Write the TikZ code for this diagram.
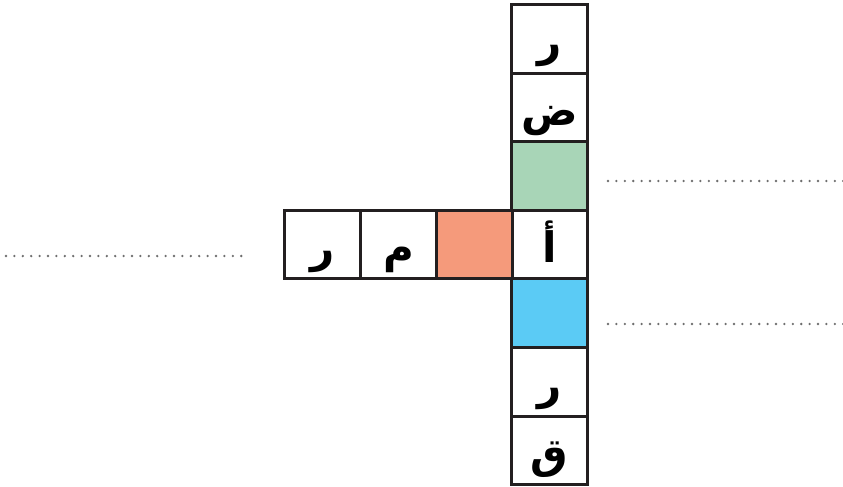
\documentclass[tikz,border=0pt]{standalone}
\usepackage{fontspec}
\newfontfamily\arabicfont[Script=Arabic]{DejaVu Sans}
\TeXXeTstate=1
\definecolor{cellline}{HTML}{231F20}
\definecolor{cgreen}{HTML}{A8D5B7}
\definecolor{csalmon}{HTML}{F59A7B}
\definecolor{cblue}{HTML}{5BCBF5}
\definecolor{dotgray}{HTML}{6E6E6E}
\begin{document}
\begin{tikzpicture}[x=1pt,y=-1pt,
  cell/.style={draw=cellline,line width=3pt,minimum width=76pt,minimum height=68.6pt,inner sep=0pt,anchor=north west},
  letter/.style={font=\arabicfont\bfseries\fontsize{42}{44}\selectfont,inner sep=0pt,anchor=base},
  dotline/.style={draw=dotgray,line width=2.6pt,line cap=round,dash pattern=on 0pt off 8.4pt}]
\useasboundingbox (0,0) rectangle (843,487);
% column
\node[cell] (c1) at (510,3) {};
\node[cell] (c2) at (510,71.6) {};
\node[cell,fill=cgreen] (c3) at (510,140.2) {};
\node[cell] (c4) at (510,208.8) {};
\node[cell,fill=cblue] (c5) at (510,277.4) {};
\node[cell] (c6) at (510,346) {};
\node[cell] (c7) at (510,414.6) {};
% row
\node[cell] (r1) at (283,208.8) {};
\node[cell] (r2) at (359,208.8) {};
\node[cell,fill=csalmon] (r3) at (435,208.8) {};
% letters
\node[letter] (t1) at ([yshift=-18pt]c1.center) {\beginR ر\endR};
\node[letter] (t2) at ([yshift=-18pt]c2.center) {\beginR ض\endR};
\node[letter] (t4) at ([yshift=-18pt]c4.center) {\beginR أ\endR};
\node[letter] (t6) at ([yshift=-18pt]c6.center) {\beginR ر\endR};
\node[letter] (t7) at ([yshift=-18pt]c7.center) {\beginR ق\endR};
\node[letter] (u1) at ([yshift=-18pt]r1.center) {\beginR ر\endR};
\node[letter] (u2) at ([yshift=-18pt]r2.center) {\beginR م\endR};
% dotted lines
\coordinate (a1) at (608,181);
\coordinate (a2) at (846,181);
\coordinate (b1) at (6,256);
\coordinate (b2) at (248,256);
\coordinate (d1) at (608,324);
\coordinate (d2) at (846,324);
\draw[dotline] (a1) -- (a2);
\draw[dotline] (b1) -- (b2);
\draw[dotline] (d1) -- (d2);
\end{tikzpicture}
\end{document}
